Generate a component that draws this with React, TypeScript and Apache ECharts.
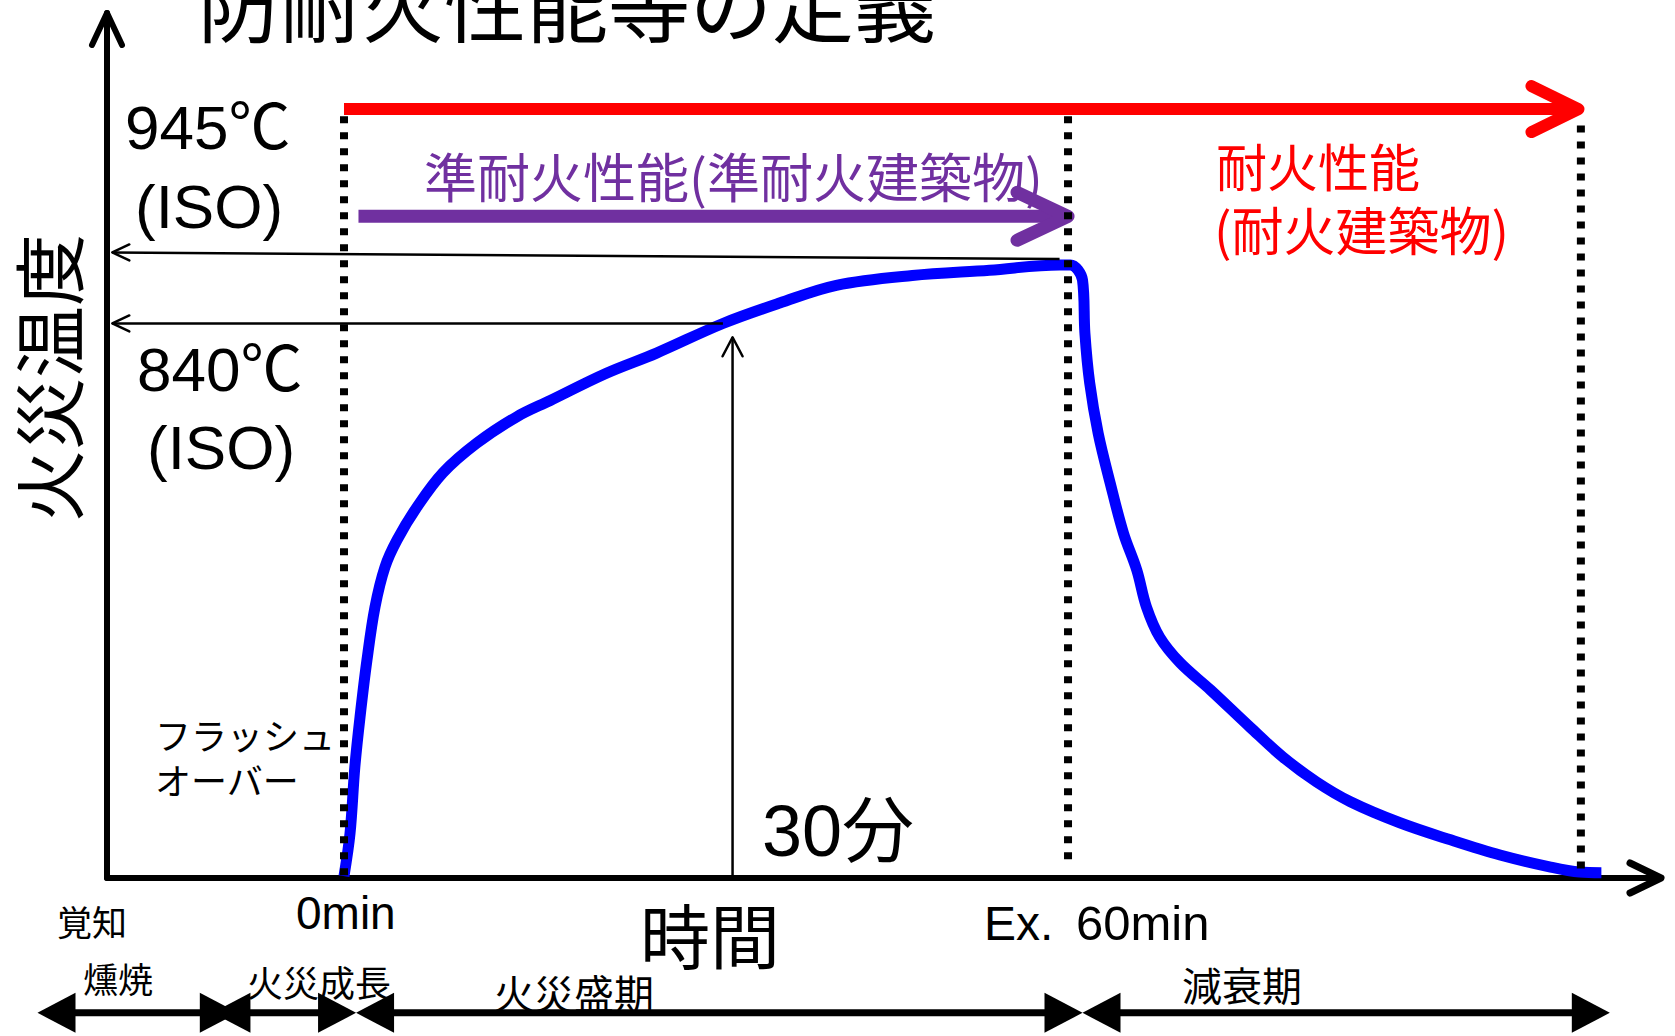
import React, { useEffect, useRef } from "react";
import * as echarts from "echarts";

// Blue fire-temperature curve (time in minutes from flashover, temperature in °C)
const timeMin = [0, 0.5, 0.9, 1.33, 1.9, 2.57, 3.4, 4.4, 6.05, 8.2, 11.0, 14.3, 17.1, 21.7, 25.9, 31.4, 36.1, 40.8, 47.1, 53.5, 59.3, 60.2, 61.2, 61.4, 61.8, 62.5, 63.5, 64.6, 65.7, 66.5, 67.6, 69.3, 71.8, 75.1, 77.8, 80.6, 83.4, 87.5, 91.7, 95.8, 99.9, 102.4, 104.2];
const fireTemp = [3, 68, 169, 245, 331, 412, 473, 514, 564, 616, 661, 701, 726, 767, 798, 843, 874, 901, 916, 924, 932, 932, 909, 828, 752, 676, 600, 524, 468, 412, 366, 327, 286, 229, 184, 146, 116, 84, 58, 35, 17, 9, 8];

// Axis ranges
const xMin = -19.64;
const xMax = 109.14;
const yMax = 1315;

// Dotted verticals: 0min, Ex.60min, end of decay
const dottedTimes = [0, 60, 102.5];
const dottedTop = [1158, 1158, 1144];
const dottedBottom = [0, 20, 5];

// Performance arrows
const redArrow = { from: 0, to: 102.3, level: 1169 };
const purpleArrow = { from: 1.2, to: 60, level: 1006 };

// ISO reference arrows
const iso945 = { from: [59.3, 941], to: [-19.2, 951] };
const iso840 = { from: [31.4, 843], to: [-19.2, 843] };
const thirtyMinArrow = { time: 32.2, tip: 822 };

// Fire stage period arrows (below the time axis)
const periodLevel = -205;
const periodSegments = [
  [-25.4, -8.8],
  [-10.9, 1.0],
  [1.0, 61.2],
  [61.2, 104.9],
];

// Text labels
const titleText = "防耐火性能等の定義";
const yAxisTitle = "火災温度";
const xAxisTitle = "時間";
const isoLabels = ["945℃", "(ISO)", "840℃", "(ISO)"];
const stageLabels = ["覚知", "燻焼", "火災成長", "火災盛期", "減衰期"];

const JP = '"Noto Sans CJK JP", sans-serif';
const LAT = '"Liberation Sans", "Noto Sans CJK JP", sans-serif';

function txt(text: string, x: number, y: number, size: number, fill = "#000", family = JP, align = "left", rotation = 0) {
  return {
    type: "text",
    x,
    y,
    rotation,
    silent: true,
    style: {
      text,
      fill,
      fontSize: size,
      fontFamily: family,
      align,
      verticalAlign: "middle",
      textAlign: align,
      textVerticalAlign: "middle",
    },
  };
}

export default function App() {
  const ref = useRef<HTMLDivElement>(null);

  useEffect(() => {
    document.body.style.margin = "0";
    if (!ref.current) return;
    const chart = echarts.init(ref.current, null, { renderer: "svg" });

    const renderAnnotations = (_params: any, api: any) => {
      const c = (x: number, y: number) => api.coord([x, y]);
      const children: any[] = [];
      const seg = (a: number[], b: number[], style: any) =>
        children.push({ type: "line", shape: { x1: a[0], y1: a[1], x2: b[0], y2: b[1] }, style });
      const chev = (tip: number[], a1: number[], a2: number[], style: any) =>
        children.push({
          type: "polyline",
          shape: { points: [[tip[0] + a1[0], tip[1] + a1[1]], tip, [tip[0] + a2[0], tip[1] + a2[1]]] },
          style: { fill: "none", lineCap: "round", lineJoin: "round", ...style },
        });
      const tri = (tip: number[], dir: number) =>
        children.push({
          type: "polygon",
          shape: { points: [tip, [tip[0] + dir * 38, tip[1] - 20], [tip[0] + dir * 38, tip[1] + 20]] },
          style: { fill: "#000" },
        });

      // red arrow
      const rs = c(redArrow.from, redArrow.level);
      const rt = c(redArrow.to, redArrow.level);
      seg(rs, [rt[0] - 4, rt[1]], { stroke: "#FF0000", lineWidth: 12 });
      chev(rt, [-47, -23], [-47, 23], { stroke: "#FF0000", lineWidth: 12 });

      // purple arrow
      const ps = c(purpleArrow.from, purpleArrow.level);
      const pt = c(purpleArrow.to, purpleArrow.level);
      seg(ps, [pt[0] - 4, pt[1]], { stroke: "#7030A0", lineWidth: 13 });
      chev(pt, [-51, -24], [-51, 24], { stroke: "#7030A0", lineWidth: 13 });

      // thin ISO arrows
      const thin = { stroke: "#000", lineWidth: 2.5 };
      const a1 = c(iso945.from[0], iso945.from[1]);
      const a2 = c(iso945.to[0], iso945.to[1]);
      seg(a1, a2, thin);
      chev(a2, [17, -8], [17, 8], thin);
      const b1 = c(iso840.from[0], iso840.from[1]);
      const b2 = c(iso840.to[0], iso840.to[1]);
      seg(b1, b2, thin);
      chev(b2, [17, -8], [17, 8], thin);
      const v1 = c(thirtyMinArrow.time, 0);
      const v2 = c(thirtyMinArrow.time, thirtyMinArrow.tip);
      seg(v1, v2, thin);
      chev(v2, [-10, 19], [10, 19], thin);

      // axis arrow heads
      chev(c(xMin, yMax), [-15, 32], [15, 32], { stroke: "#000", lineWidth: 6 });
      chev(c(xMax, 0), [-31, -15], [-31, 15], { stroke: "#000", lineWidth: 7 });

      // period arrows
      periodSegments.forEach(([l, r]) => {
        const L = c(l, periodLevel);
        const R = c(r, periodLevel);
        seg([L[0] + 30, L[1]], [R[0] - 30, R[1]], { stroke: "#000", lineWidth: 7 });
        tri(L, 1);
        tri(R, -1);
      });

      // dotted verticals (on top)
      dottedTimes.forEach((t, i) => {
        const top = c(t, dottedTop[i]);
        const bot = c(t, dottedBottom[i]);
        seg(top, bot, { stroke: "#000", lineWidth: 8, lineDash: [7, 9] });
      });

      return { type: "group", children };
    };

    const option: any = {
      animation: false,
      backgroundColor: "#fff",
      grid: { left: 107, right: 14, top: 13, bottom: 158, containLabel: false },
      xAxis: {
        type: "value",
        min: xMin,
        max: xMax,
        axisLine: { show: true, onZero: true, lineStyle: { color: "#000", width: 6 } },
        axisTick: { show: false },
        axisLabel: { show: false },
        splitLine: { show: false },
      },
      yAxis: {
        type: "value",
        min: 0,
        max: yMax,
        axisLine: { show: true, onZero: false, lineStyle: { color: "#000", width: 6 } },
        axisTick: { show: false },
        axisLabel: { show: false },
        splitLine: { show: false },
      },
      series: [
        {
          type: "line",
          data: timeMin.map((t, i) => [t, fireTemp[i]]),
          smooth: 0.35,
          showSymbol: false,
          symbol: "none",
          lineStyle: { color: "#0000FF", width: 11, cap: "butt", join: "round" },
          z: 3,
        },
        {
          type: "custom",
          data: [[0, 0]],
          renderItem: renderAnnotations,
          clip: false,
          silent: true,
          z: 4,
        },
      ],
      graphic: [
        txt(titleText, 198, 0, 82),
        txt(yAxisTitle, 45, 378, 72, "#000", JP, "center", Math.PI / 2),
        txt(isoLabels[0], 125, 127, 62, "#000", LAT),
        txt(isoLabels[1], 135, 206, 62, "#000", LAT),
        txt(isoLabels[2], 137, 369, 62, "#000", LAT),
        txt(isoLabels[3], 147, 447, 62, "#000", LAT),
        txt("準耐火性能(準耐火建築物)", 424, 175, 53, "#7030A0"),
        txt("耐火性能", 1216, 165, 51, "#FF0000"),
        txt("(耐火建築物)", 1214, 228, 52, "#FF0000"),
        txt("フラッシュ", 155, 734, 36),
        txt("オーバー", 155, 779, 36),
        txt("30分", 762, 831, 72, "#000", LAT),
        txt(xAxisTitle, 640, 933, 70),
        txt("0min", 296, 913, 46, "#000", LAT),
        txt("Ex.", 984, 923, 48, "#000", LAT),
        txt("60min", 1076, 923, 49, "#000", LAT),
        txt(stageLabels[0], 57, 920, 35),
        txt(stageLabels[1], 83, 977, 35),
        txt(stageLabels[2], 247, 981, 36),
        txt(stageLabels[3], 494, 992, 40),
        txt(stageLabels[4], 1182, 984, 40),
      ],
    };

    chart.setOption(option);
    return () => chart.dispose();
  }, []);

  return <div ref={ref} style={{ width: 1675, height: 1036 }} />;
}
